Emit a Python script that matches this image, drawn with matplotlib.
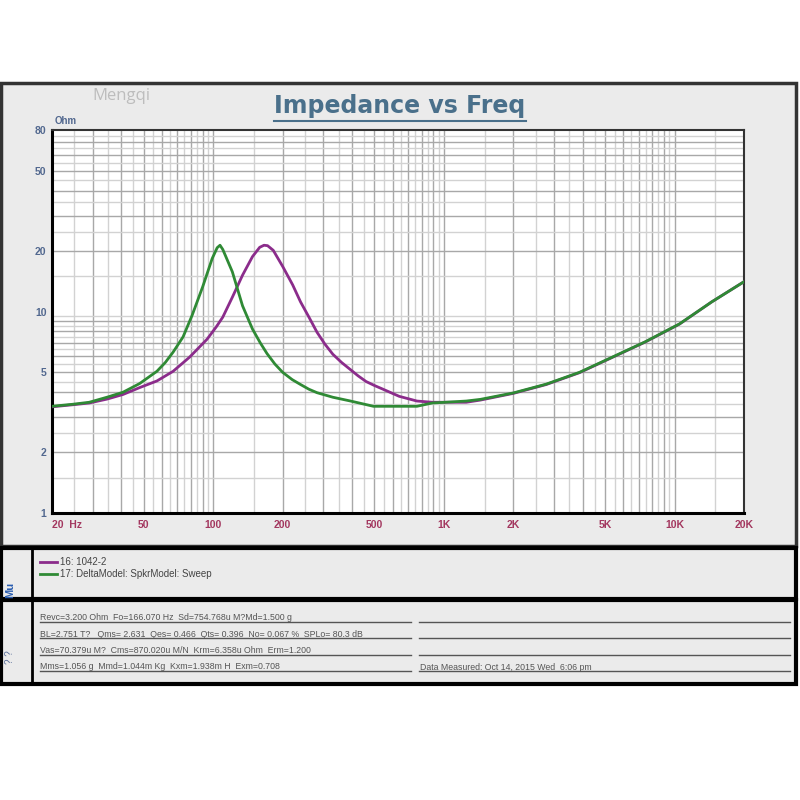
import matplotlib.pyplot as plt
from matplotlib.patches import Rectangle
from matplotlib.lines import Line2D

# measured driver (16: 1042-2)
freq_meas = [20, 24.6, 29, 34.6, 40.6, 48, 57, 67, 79, 94, 103, 110, 121, 134, 148,
             159, 166, 172, 182, 200, 221, 239, 260, 282, 305, 330, 360, 394, 425, 460,
             500, 545, 640, 764, 890, 1250, 1440, 2000, 2780, 3870, 5370, 7440, 10500,
             14500, 20000]
z_meas = [3.37, 3.45, 3.52, 3.68, 3.88, 4.2, 4.53, 5.06, 5.95, 7.3, 8.4, 9.4, 11.8, 15.2,
          18.8, 20.9, 21.4, 21.3, 20.2, 16.8, 13.6, 11.2, 9.4, 7.9, 6.9, 6.15, 5.6, 5.15,
          4.8, 4.5, 4.3, 4.12, 3.8, 3.6, 3.55, 3.55, 3.64, 3.93, 4.35, 4.98, 5.93, 7.06,
          8.68, 11.2, 14.1]

# model sweep (17: DeltaModel: SpkrModel: Sweep)
freq_model = [20, 24.6, 29, 34.6, 40.6, 48, 57, 62, 67, 74, 81, 90, 99, 104, 107, 110, 121,
              134, 148, 160, 171, 185, 200, 220, 239, 260, 282, 330, 394, 495, 764, 890,
              1250, 1440, 2000, 2780, 3870, 5370, 7440, 10500, 14500, 20000]
z_model = [3.39, 3.47, 3.55, 3.76, 3.98, 4.4, 5.06, 5.6, 6.3, 7.5, 9.6, 13.3, 18.4, 20.8,
           21.4, 20.4, 15.8, 10.7, 8.2, 7.0, 6.2, 5.5, 5.0, 4.6, 4.35, 4.12, 3.96, 3.76,
           3.6, 3.39, 3.39, 3.52, 3.6, 3.67, 3.95, 4.37, 5.0, 5.95, 7.08, 8.7, 11.2, 14.1]

x_ticks = [20, 50, 100, 200, 500, 1000, 2000, 5000, 10000, 20000]
x_labels = ['20  Hz', '50', '100', '200', '500', '1K', '2K', '5K', '10K', '20K']
y_ticks = [1, 2, 5, 10, 20, 50, 80]
y_labels = ['1', '2', '5', '10', '20', '50', '80']

legend_names = ['16: 1042-2', '17: DeltaModel: SpkrModel: Sweep']
param_lines = [
    'Revc=3.200 Ohm  Fo=166.070 Hz  Sd=754.768u M?Md=1.500 g',
    'BL=2.751 T?   Qms= 2.631  Qes= 0.466  Qts= 0.396  No= 0.067 %  SPLo= 80.3 dB',
    'Vas=70.379u M?  Cms=870.020u M/N  Krm=6.358u Ohm  Erm=1.200',
    'Mms=1.056 g  Mmd=1.044m Kg  Kxm=1.938m H  Exm=0.708',
]
date_text = 'Data Measured: Oct 14, 2015 Wed  6:06 pm'

purple = '#8b2c8b'
green = '#2f8a35'
W = H = 800.0


def fx(px):
    return px / W


def fy(py):
    return 1 - py / H


plt.rcParams['font.family'] = ['Liberation Sans', 'DejaVu Sans']
fig = plt.figure(figsize=(8, 8), dpi=100)
fig.patch.set_facecolor('white')

# panels
for (top, bottom, ec, lw) in [(83, 546, '#333333', 2.5), (548, 599, 'black', 3),
                              (600, 684, 'black', 3)]:
    fig.patches.append(Rectangle((fx(1), fy(bottom)), fx(795), (bottom - top) / H,
                                 transform=fig.transFigure, facecolor='#ebebeb',
                                 edgecolor=ec, lw=lw, zorder=-5))
fig.lines.append(Line2D([fx(32), fx(32)], [fy(548), fy(684)], transform=fig.transFigure,
                        color='black', lw=2))

ax = fig.add_axes([fx(52), fy(513), fx(744 - 52), (513 - 130) / H])
ax.set_zorder(2)
ax.set_facecolor('white')
ax.set_xscale('log')
ax.set_yscale('log')
ax.set_xlim(20, 20000)
ax.set_ylim(1, 80)

# grid
for dec in [10, 100, 1000, 10000]:
    for k in range(2, 20):
        v = dec * k / 2
        if v <= 20 or v >= 20000:
            continue
        c = '#a8a8a8' if k % 2 == 0 else '#d2d2d2'
        ax.axvline(v, color=c, lw=1.0, zorder=1)
for dec in [1, 10]:
    for k in range(3, 20):
        v = dec * k / 2
        if v >= 80:
            continue
        c = '#a8a8a8' if k % 2 == 0 else '#d2d2d2'
        ax.axhline(v, color=c, lw=1.0, zorder=1)

ax.plot(freq_meas, z_meas, color=purple, lw=2, zorder=3)
ax.plot(freq_model, z_model, color=green, lw=2, zorder=4)

ax.set_xticks(x_ticks)
ax.set_xticklabels(x_labels)
ax.set_xticks([], minor=True)
ax.set_yticks(y_ticks)
ax.set_yticklabels(y_labels)
ax.set_yticks([], minor=True)
ax.tick_params(axis='x', length=0, pad=5, labelsize=7.5, labelcolor='#a3375f')
ax.tick_params(axis='y', length=0, pad=4, labelsize=7.5, labelcolor='#52688f')
for t in ax.get_xticklabels():
    t.set_fontweight('bold')
for t in ax.get_yticklabels():
    t.set_fontweight('bold')
ax.get_xticklabels()[0].set_horizontalalignment('left')
for s in ['left', 'bottom']:
    ax.spines[s].set_linewidth(2.2)
    ax.spines[s].set_color('black')
for s in ['top', 'right']:
    ax.spines[s].set_linewidth(1.5)
    ax.spines[s].set_color('#333333')

# titles
title = fig.text(0.5, fy(106), 'Impedance vs Freq', ha='center', va='center',
                 fontsize=17, fontweight='bold', color='#4a708b', family='DejaVu Sans')
fig.canvas.draw()
bb = title.get_window_extent()
fig.lines.append(Line2D([bb.x0 / W, bb.x1 / W], [fy(121), fy(121)], transform=fig.transFigure,
                        color='#4a708b', lw=1.5))
fig.text(fx(92), fy(96), 'Mengqi', ha='left', va='center', fontsize=12,
         color='#bdbdbd', family=['Open Sans', 'DejaVu Sans'])
fig.text(fx(55), fy(121), 'Ohm', ha='left', va='center', fontsize=7, fontweight='bold',
         color='#52688f')

# legend panel
for i, (name, c) in enumerate(zip(legend_names, [purple, green])):
    y = fy(562 + 12 * i)
    fig.lines.append(Line2D([fx(40), fx(57)], [y, y], transform=fig.transFigure, color=c, lw=2))
    fig.text(fx(60), y, name, ha='left', va='center', fontsize=7, color='#444444')

fig.text(fx(10), fy(590), 'Mu', rotation=90, ha='center', va='center', fontsize=8,
         fontweight='bold', color='#2a5db0')
fig.text(fx(10), fy(657), '? ?', rotation=90, ha='center', va='center', fontsize=7,
         color='#5a6f9a')

# parameter panel
for i, line in enumerate(param_lines):
    y = 618 + 16.3 * i
    fig.text(fx(40), fy(y), line, ha='left', va='center', fontsize=6.3, color='#555555')
    fig.lines.append(Line2D([fx(40), fx(411)], [fy(y + 4), fy(y + 4)], transform=fig.transFigure,
                            color='#555555', lw=1))
    fig.lines.append(Line2D([fx(419), fx(790)], [fy(y + 4), fy(y + 4)], transform=fig.transFigure,
                            color='#555555', lw=1))
fig.text(fx(420), fy(667), date_text, ha='left', va='center', fontsize=6.3, color='#555555')

fig.savefig('out.png', dpi=100, facecolor='white')
